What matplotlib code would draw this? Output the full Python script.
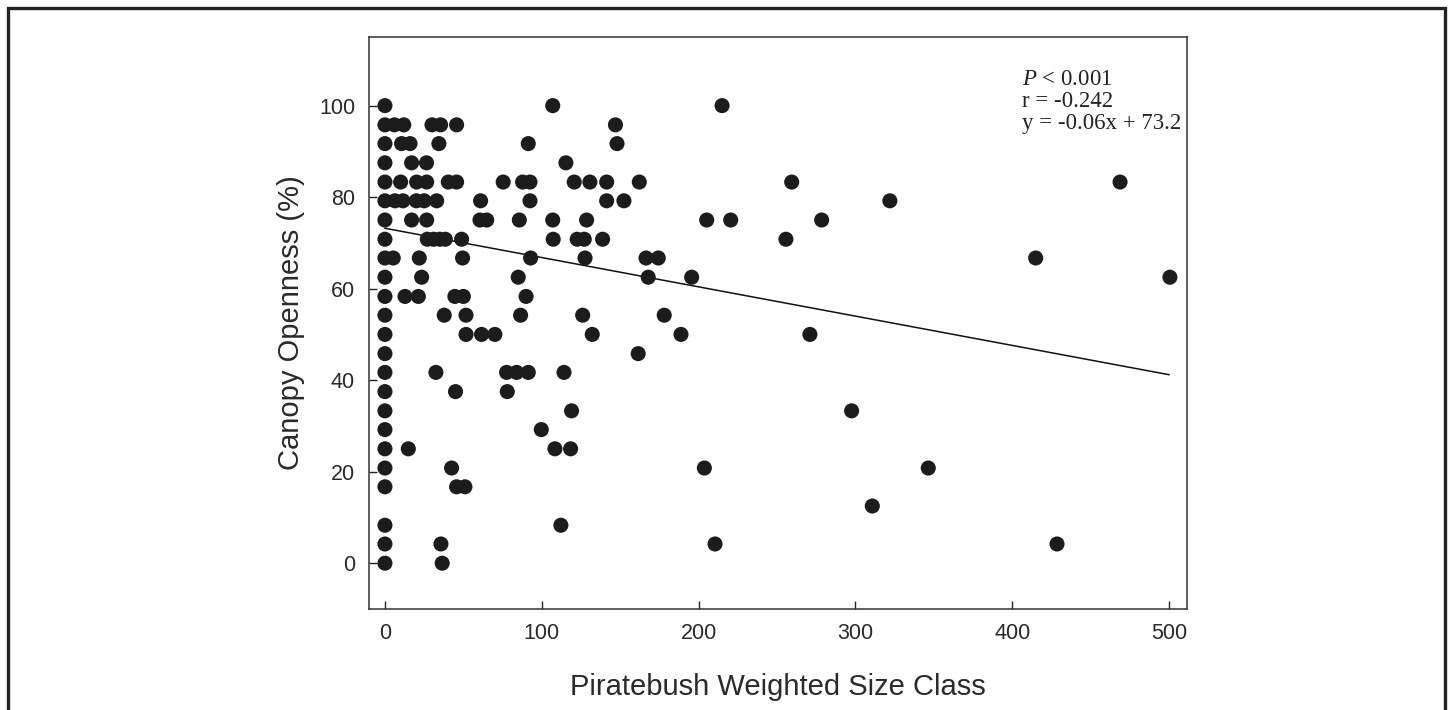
import numpy as np
import matplotlib
matplotlib.use("Agg")
from matplotlib import pyplot as plt
from matplotlib.patches import Rectangle

x_zero_levels = [0, 4.2, 8.3, 16.7, 20.8, 25, 29.2, 33.3, 37.5, 41.7, 45.8, 50,
                 54.2, 58.3, 62.5, 66.7, 70.8, 75, 79.2, 83.3, 87.5, 91.7, 95.8, 100]

rows = {
    100.0: [107, 215],
    95.8: [6, 12, 30, 35.5, 45.7, 147],
    91.7: [10.6, 16, 34.4, 91.4, 148],
    87.5: [17, 26.5, 115.4],
    83.3: [10, 20.2, 26.6, 40.4, 45.7, 75.4, 87.8, 92.5, 120.7, 130.7, 141.4, 162.2, 259.4, 468.8],
    79.2: [6.4, 11.5, 20, 25, 33, 61, 92.5, 141.4, 152.4, 322],
    75.0: [17, 26.6, 60.6, 64.9, 85.7, 107, 128.6, 205.2, 220.5, 278.5],
    70.8: [27, 31, 35, 38.5, 48.9, 107.3, 122.6, 127.1, 138.8, 255.7],
    66.7: [5.3, 21.9, 49.5, 92.9, 127.6, 166.5, 174.3, 415],
    62.5: [23.4, 85, 167.9, 195.6, 500.6],
    58.3: [12.8, 21.3, 44.6, 50, 90],
    54.2: [37.8, 51.7, 86.5, 126.1, 178.1],
    50.0: [51.7, 61.6, 70.1, 132.2, 188.8, 271],
    45.8: [161.5],
    41.7: [32.5, 77.6, 84, 91.4, 114.2],
    37.5: [45, 78],
    33.3: [119, 297.6],
    29.2: [99.7],
    25.0: [14.9, 108.4, 118.4],
    20.8: [42.5, 203.7, 346.5],
    16.7: [45.7, 51],
    12.5: [310.8],
    8.3: [112.2],
    4.2: [35.7, 210.5, 428.6],
    0.0: [36.5],
}

size_class = list(np.zeros(len(x_zero_levels)))
openness = list(x_zero_levels)
for lvl, xs in rows.items():
    size_class += xs
    openness += [lvl] * len(xs)
size_class = np.array(size_class)
openness = np.array(openness)

slope = -0.064
intercept = 73.2
fit_x = np.array([0, 500])

plt.rcParams['mathtext.fontset'] = 'custom'
plt.rcParams['mathtext.it'] = 'Liberation Serif:italic'
plt.rcParams['mathtext.rm'] = 'Liberation Serif'

fig = plt.figure(figsize=(14.52, 7.10), dpi=100)
ax = fig.add_axes([0.2541, 0.1423, 0.5634, 0.8056])

ax.scatter(size_class, openness, s=118, color='#1c1c1c', edgecolors='none', zorder=3)
ax.plot(fit_x, intercept + slope * fit_x, color='#111111', lw=1.1, zorder=2)

ax.set_xlim(-10.2, 511.5)
ax.set_ylim(-10, 115)
ax.set_xticks(range(0, 501, 100))
ax.set_yticks(range(0, 101, 20))
ax.tick_params(direction='in', length=6, width=1, pad=10, labelsize=15.5,
               colors='#222222', labelcolor='#2a2a2a')
for s in ax.spines.values():
    s.set_linewidth(1.1)
    s.set_color('#333333')
for lab in ax.get_xticklabels() + ax.get_yticklabels():
    lab.set_family('Liberation Sans')

ax.set_xlabel('Piratebush Weighted Size Class', family='Liberation Sans', fontsize=21,
              color='#2a2a2a', labelpad=21)
ax.set_ylabel('Canopy Openness (%)', family='Liberation Sans', fontsize=21,
              color='#2a2a2a', labelpad=10)

stats = ['$P$ < 0.001', 'r = -0.242', 'y = -0.06x + 73.2']
for i, t in enumerate(stats):
    ax.text(0.798, 0.926 - i * 0.0385, t, transform=ax.transAxes, family='Liberation Serif',
            fontsize=16.5, color='#222222', va='center', ha='left')

# outer frame of the figure panel
fig.patches.append(Rectangle((8 / 1452, -0.1), 1437 / 1452, 1.1 - 8 / 710,
                             transform=fig.transFigure, fill=False, lw=2.4,
                             edgecolor='#222222'))

fig.savefig('out.png', dpi=100, facecolor='white')
